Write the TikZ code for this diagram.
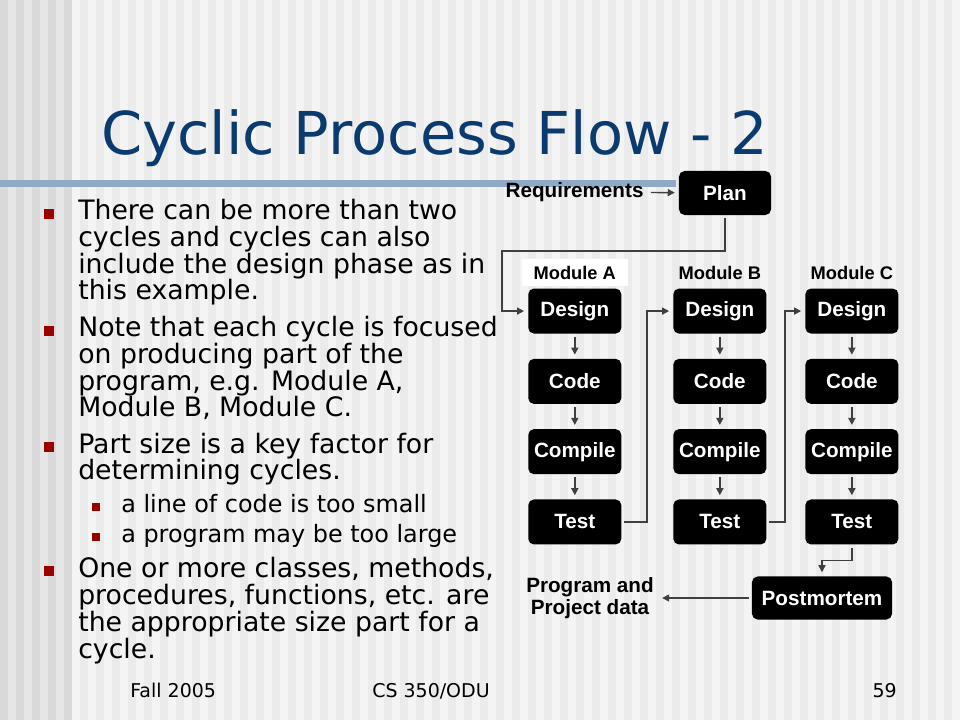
\documentclass[tikz,border=0pt]{standalone}
\usepackage{fontspec}
\setmainfont{DejaVu Sans}
\newfontfamily\arialfont{Liberation Sans}
\usetikzlibrary{positioning}
\usetikzlibrary{arrows.meta}
\usetikzlibrary{matrix}

\definecolor{stripedark}{HTML}{D9D9D9}
\definecolor{stripelight}{HTML}{E6E6E6}
\definecolor{pagelight}{HTML}{F4F4F4}
\definecolor{pagedark}{HTML}{EBEBEB}
\definecolor{barblue}{HTML}{8FAAC5}
\definecolor{titleblue}{HTML}{0B3A6E}
\definecolor{bulred}{HTML}{990000}
\definecolor{linegray}{HTML}{3F3F3F}

\tikzset{
    box/.style={fill=black, rounded corners=4pt, text=white, inner sep=2pt,
        minimum width=2.325cm, minimum height=1.125cm,
        font=\arialfont\bfseries\fontsize{14.7}{16}\selectfont},
    lbl/.style={font=\arialfont\bfseries\fontsize{14.7}{15.6}\selectfont, inner sep=3pt},
    modlbl/.style={font=\arialfont\bfseries\fontsize{13}{15}\selectfont,
        minimum width=2.65cm, minimum height=0.675cm, inner sep=0pt},
    flow/.style={draw=linegray, line width=1pt, shorten <=2pt, shorten >=2.8pt,
        -{Triangle[length=5pt,width=5pt]}},
    item/.style={anchor=base west, align=left, inner sep=0pt,
        font=\fontsize{19}{19}\selectfont},
    subitem/.style={anchor=base west, align=left, inner sep=0pt,
        font=\fontsize{17}{19}\selectfont},
    bull/.style={fill=bulred, minimum size=0.235cm, inner sep=0pt},
    subbull/.style={fill=bulred, minimum size=0.2cm, inner sep=0pt},
    foot/.style={inner sep=0pt, font=\fontsize{13.5}{15}\selectfont},
}

\begin{document}
\begin{tikzpicture}[x=0.025cm, y=-0.025cm]
    \useasboundingbox (0,0) rectangle (960,720);
    \fill[stripedark] (0,0) rectangle (72,720);
    \foreach \x in {8,24,40,56}
        \fill[stripelight] (\x,0) rectangle ++(8,720);
    \fill[pagelight] (72,0) rectangle (960,720);
    \foreach \x in {80,96,...,944}
        \fill[pagedark] (\x,0) rectangle ++(8,720);
    \fill[barblue] (0,180) rectangle (676,187);

    \node[anchor=base west, inner sep=0pt, text=titleblue, font=\fontsize{42}{50}\selectfont]
        (title) at (101,155) {Cyclic Process Flow - 2};

    \node[bull] (bulA) at (49,214) {};
    \node[item] (itemA) at (78,300) {There can be more than two\\cycles and cycles can also\\include the design phase as in\\this example.};
    \node[bull] (bulB) at (49,331) {};
    \node[item] (itemB) at (78,417) {Note that each cycle is focused\\on producing part of the\\program, e.g. Module A,\\Module B, Module C.};
    \node[bull] (bulC) at (49,447) {};
    \node[item] (itemC) at (78,480) {Part size is a key factor for\\determining cycles.};
    \node[subbull] (sbulA) at (96,507) {};
    \node[subitem] (subA) at (121,513) {a line of code is too small};
    \node[subbull] (sbulB) at (96,537) {};
    \node[subitem] (subB) at (121,543) {a program may be too large};
    \node[bull] (bulD) at (49,571) {};
    \node[item] (itemD) at (78,658) {One or more classes, methods,\\procedures, functions, etc. are\\the appropriate size part for a\\cycle.};

    \node[box, minimum width=2.3cm, minimum height=1.1cm] (plan) at (725,193) {Plan};
    \node[lbl, anchor=east] (req) at (648,192) {Requirements};

    \matrix (mods) [row sep=0.625cm, column sep=0.975cm, inner sep=0pt, anchor=north west] at (528,288) {
        \node[box] (desA) {Design}; &[0.325cm] \node[box] (desB) {Design}; & \node[box] (desC) {Design}; \\
        \node[box] (codA) {Code}; &[0.325cm] \node[box] (codB) {Code}; & \node[box] (codC) {Code}; \\
        \node[box] (comA) {Compile}; &[0.325cm] \node[box] (comB) {Compile}; & \node[box] (comC) {Compile}; \\
        \node[box] (tesA) {Test}; &[0.325cm] \node[box] (tesB) {Test}; & \node[box] (tesC) {Test}; \\
    };

    \node[modlbl, fill=white, above=0.05cm of desA] (modA) {Module A};
    \node[modlbl, above=0.05cm of desB] (modB) {Module B};
    \node[modlbl, above=0.05cm of desC] (modC) {Module C};

    \node[box, minimum width=3.5cm, minimum height=1.075cm] (post) at (822,598) {Postmortem};
    \node[lbl, align=center] (prog) at (590,598) {Program and\\Project data};

    \coordinate (bendA) at (502,251);
    \coordinate (bendB) at (647,415);
    \coordinate (bendC) at (785,415);

    \draw[flow] (req) -- (plan);
    \draw[flow] (plan) |- (bendA) |- (desA);
    \foreach \m in {A,B,C} {
        \draw[flow] (des\m) -- (cod\m);
        \draw[flow] (cod\m) -- (com\m);
        \draw[flow] (com\m) -- (tes\m);
    }
    \draw[flow] (tesA) -| (bendB) |- (desB);
    \draw[flow] (tesB) -| (bendC) |- (desC);
    \draw[flow] (tesC.south) -- ++(0,16) -| (post);
    \draw[flow] (post) -- (prog);

    \node[foot, anchor=base west] (fdate) at (130,697) {Fall 2005};
    \node[foot, anchor=base] (fcourse) at (431,697) {CS 350/ODU};
    \node[foot, anchor=base east] (fpage) at (897,697) {59};
\end{tikzpicture}
\end{document}
